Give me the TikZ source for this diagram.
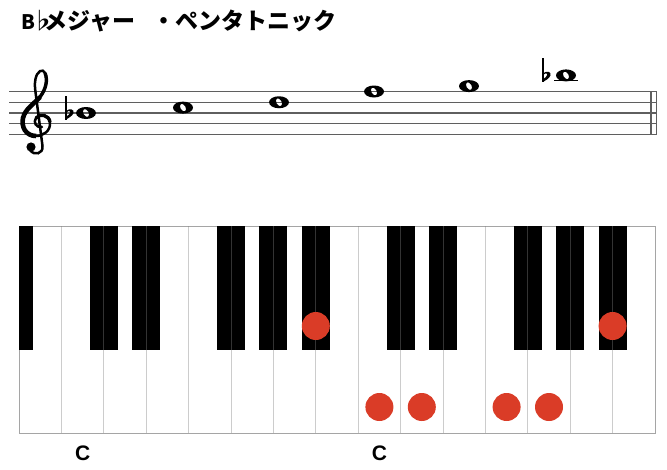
\documentclass[tikz,border=0pt]{standalone}
\usepackage{fontspec}
\setmainfont{Liberation Sans}
\newfontfamily\cjk{Noto Sans CJK JP}
\usetikzlibrary{positioning}

\definecolor{dotred}{RGB}{218,60,39}
\definecolor{staffgray}{RGB}{95,95,95}
\definecolor{keyline}{RGB}{165,165,165}

% whole note head at (x,y)
\newcommand{\wholenote}[2]{%
  \fill[even odd rule] (#1,#2) ellipse (10 and 6)
    {[rotate around={30:(#1,#2)}] (#1,#2) ellipse (2.6 and 4.2)};}
% flat sign, stem at x, belly on y
\newcommand{\flatsign}[2]{%
  \draw[line width=1.5] (#1,#2+17) -- (#1,#2-6.5);
  \fill (#1,#2+2) .. controls (#1+3.5,#2+5) and (#1+8.5,#2+4) .. (#1+7.5,#2)
    .. controls (#1+6.5,#2-3) and (#1+2.5,#2-5) .. (#1,#2-6.5)
    -- (#1,#2-3.8) .. controls (#1+2,#2-2.5) and (#1+4.4,#2-0.8) .. (#1+4.4,#2+1)
    .. controls (#1+4.4,#2+2.8) and (#1+2,#2+2.5) .. (#1,#2+0.5) -- cycle;}

\begin{document}
\begin{tikzpicture}[x=1pt,y=1pt,
  titlefont/.style={font=\cjk\fontsize{23}{23}\selectfont\bfseries, inner sep=0pt},
  staffline/.style={draw=staffgray, line width=1.1},
  keydiv/.style={draw=gray, opacity=0.4, line width=0.9},
  keydot/.style={circle, fill=dotred, minimum size=28pt, inner sep=0pt},
  keylabel/.style={font=\bfseries\fontsize{21}{21}\selectfont, inner sep=0pt}]
\useasboundingbox (0,0) rectangle (667,-469);

% title
\node[titlefont, anchor=base west] (titleb) at (21,-29.5) {\fontsize{20}{20}\selectfont B};
\node[titlefont, anchor=base] (titleflat) at (43,-29.5) {♭};
\node[titlefont, anchor=base west] (title) at (44.5,-29.5) {メジャー\kern17pt・ペンタトニック};

% staff
\foreach \i in {0,...,4}
  \draw[staffline] (9,-91.5-\i*10.75) -- (656.5,-91.5-\i*10.75);
\draw[staffline] (651,-91.5) -- (651,-134.5);
\draw[staffline] (656.5,-91.5) -- (656.5,-134.5);
\draw[line width=1.4] (554,-80.75) -- (578,-80.75);

% treble clef
\draw[line width=2.5, line cap=round] (42,-127)
  .. controls (36,-128) and (33,-122) .. (36,-118)
  .. controls (40,-113) and (49,-115) .. (50,-122)
  .. controls (51,-131) and (43,-136) .. (36,-136)
  .. controls (26,-136) and (21,-127) .. (23,-118)
  .. controls (25,-109) and (35,-103) .. (40,-97)
  .. controls (46,-89) and (48,-80) .. (45,-73)
  .. controls (43,-68) and (37,-71) .. (35.5,-79)
  .. controls (34.5,-84) and (35,-88) .. (35.5,-92)
  -- (42.5,-146)
  .. controls (43.5,-154) and (34,-156) .. (30,-150);
\draw[line width=4.6] (36,-136) .. controls (26,-136) and (21,-127) .. (23,-118)
  .. controls (25,-109) and (35,-103) .. (40,-97);
\draw[line width=3.4] (40,-97) .. controls (46,-89) and (48,-80) .. (45,-73);
\draw[line width=3.4] (36,-118) .. controls (40,-113) and (49,-115) .. (50,-122);
\fill (31,-147) circle (4.6);

% notes
\flatsign{66}{-113}
\flatsign{543}{-75.4}
\foreach \x/\y in {86/113, 183/107.6, 279/102.25, 374/91.5, 469/86.1, 566/75.4}
  {\wholenote{\x}{-\y}}

% keyboard
\draw[keyline, line width=1] (19,-226) rectangle (655,-433);
\fill (19,-226) rectangle (33,-350);
\foreach \k in {2,3,5,6,7,9,10,12,13,14}
  \fill (19+\k*42.4-14,-226) rectangle (19+\k*42.4+14,-350);
\foreach \k in {1,...,14}
  \draw[keydiv] (19+\k*42.4,-226) -- (19+\k*42.4,-433);

\node[keydot] (bflat1) at (315.8,-326) {};
\node[keydot] (cdot) at (379.4,-407) {};
\node[keydot] (ddot) at (421.8,-407) {};
\node[keydot] (fdot) at (506.6,-407) {};
\node[keydot] (gdot) at (549,-407) {};
\node[keydot] (bflat2) at (612.6,-326) {};

\node[keylabel] (cone) at (82.6,-453) {C};
\node[keylabel] (ctwo) at (379.4,-453) {C};
\end{tikzpicture}
\end{document}
